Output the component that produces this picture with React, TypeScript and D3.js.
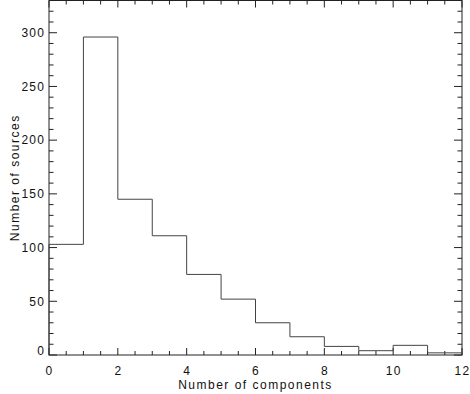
import { useEffect, useRef } from "react";
import * as d3 from "d3";

// histogram bins: number of components -> number of sources
const binStarts = [0, 1, 2, 3, 4, 5, 6, 7, 8, 9, 10, 11];
const counts = [103, 296, 145, 111, 75, 52, 30, 17, 8, 4, 9, 2];
const xTicks = [0, 2, 4, 6, 8, 10, 12];
const yTicks = [0, 50, 100, 150, 200, 250, 300];

function App() {
  const ref = useRef<SVGSVGElement>(null);

  useEffect(() => {
    const width = 470,
      height = 394;
    const left = 49,
      right = 462,
      top = 0.5,
      bottom = 355;

    const svg = d3.select(ref.current);
    svg.selectAll("*").remove();

    const x = d3.scaleLinear().domain([0, 12]).range([left, right]);
    const y = d3.scaleLinear().domain([0, 330]).range([bottom, top]);

    const font = "'Liberation Sans', Arial, Helvetica, sans-serif";
    const axisColor = "#222";

    // frame
    svg
      .append("rect")
      .attr("x", left)
      .attr("y", top)
      .attr("width", right - left)
      .attr("height", bottom - top)
      .attr("fill", "none")
      .attr("stroke", axisColor)
      .attr("stroke-width", 1);

    const ticks = svg.append("g").attr("stroke", axisColor).attr("stroke-width", 1);

    // x ticks, bottom and top
    const xMinor = d3.range(0, 12.001, 0.5);
    xMinor.forEach((v) => {
      const major = Math.abs(v % 2) < 1e-6;
      const len = major ? 7 : 4;
      ticks.append("line").attr("x1", x(v)).attr("x2", x(v)).attr("y1", bottom).attr("y2", bottom - len);
      ticks.append("line").attr("x1", x(v)).attr("x2", x(v)).attr("y1", top).attr("y2", top + len);
    });

    // y ticks, left and right
    const yMinor = d3.range(0, 330.001, 10);
    yMinor.forEach((v) => {
      const major = v % 50 === 0;
      const len = major ? 8 : 4.5;
      ticks.append("line").attr("x1", left).attr("x2", left + len).attr("y1", y(v)).attr("y2", y(v));
      ticks.append("line").attr("x1", right).attr("x2", right - len).attr("y1", y(v)).attr("y2", y(v));
    });

    // tick labels
    svg
      .append("g")
      .selectAll("text")
      .data(xTicks)
      .join("text")
      .attr("x", (d) => x(d) + 0.6)
      .attr("y", 374.5)
      .attr("text-anchor", "middle")
      .style("font-family", font)
      .style("font-size", "12px")
      .style("letter-spacing", "1.3px")
      .attr("fill", "#111")
      .text((d) => d);

    svg
      .append("g")
      .selectAll("text")
      .data(yTicks)
      .join("text")
      .attr("x", 45.3)
      .attr("y", (d) => (d === 0 ? y(d) : y(d) + 4.3))
      .attr("text-anchor", "end")
      .style("font-family", font)
      .style("font-size", "12px")
      .style("letter-spacing", "1.3px")
      .attr("fill", "#111")
      .text((d) => d);

    // axis titles
    svg
      .append("text")
      .attr("x", (left + right) / 2)
      .attr("y", 389)
      .attr("text-anchor", "middle")
      .style("font-family", font)
      .style("font-size", "12px")
      .style("letter-spacing", "1.5px")
      .attr("fill", "#111")
      .text("Number of components");

    svg
      .append("text")
      .attr("text-anchor", "middle")
      .attr("transform", `translate(18.5,${(top + bottom) / 2})rotate(-90)`)
      .style("font-family", font)
      .style("font-size", "12px")
      .style("letter-spacing", "1.5px")
      .attr("fill", "#111")
      .text("Number of sources");

    // histogram outline (step)
    const pts: [number, number][] = [[0, 0]];
    binStarts.forEach((b, i) => {
      pts.push([b, counts[i]]);
      pts.push([b + 1, counts[i]]);
    });
    pts.push([12, 0]);

    const line = d3
      .line<[number, number]>()
      .x((d) => x(d[0]))
      .y((d) => y(d[1]));

    svg
      .append("path")
      .datum(pts)
      .attr("fill", "none")
      .attr("stroke", "#444")
      .attr("stroke-width", 1)
      .attr("d", line);

    svg.attr("width", width).attr("height", height);
  }, []);

  return (
    <svg
      ref={ref}
      width={470}
      height={394}
      style={{ position: "absolute", left: 0, top: 0, background: "#fff" }}
    ></svg>
  );
}

export default App;
